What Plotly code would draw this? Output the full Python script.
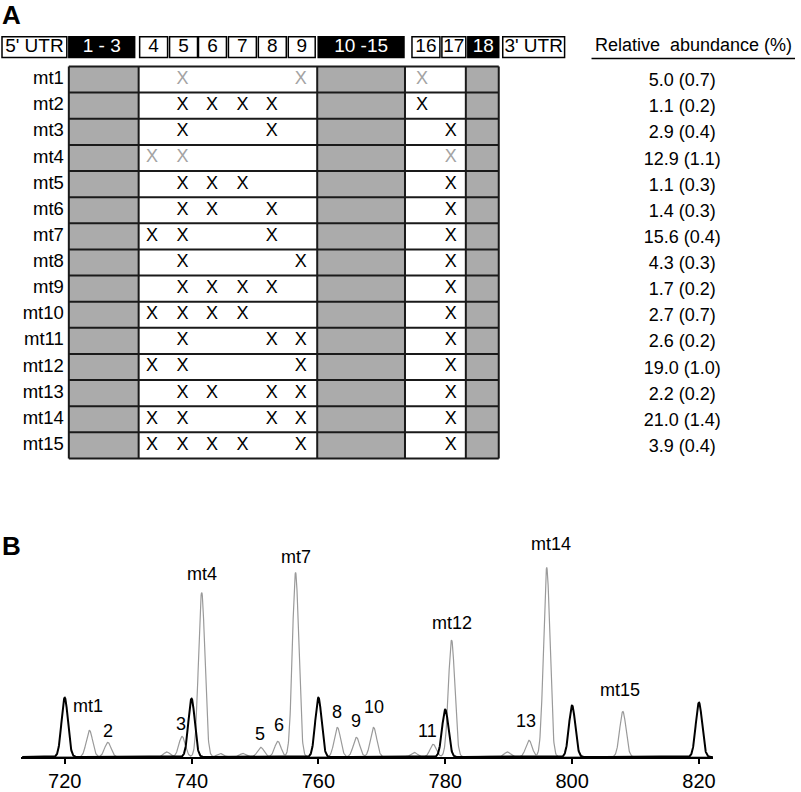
import numpy as np
import plotly.graph_objects as go

# ---- panel A: exon map of the transcripts
exon_labels = ["5' UTR", "1 - 3", "4", "5", "6", "7", "8", "9", "10 -15", "16", "17", "18", "3' UTR"]
constitutive = ["1 - 3", "10 -15", "18"]
transcripts = ["mt%d" % i for i in range(1, 16)]
exons_used = [
    [5, 9, 16], [5, 6, 7, 8, 16], [5, 8, 17], [4, 5, 17], [5, 6, 7, 17],
    [5, 6, 8, 17], [4, 5, 8, 17], [5, 9, 17], [5, 6, 7, 8, 17], [4, 5, 6, 7, 17],
    [5, 8, 9, 17], [4, 5, 9, 17], [5, 6, 8, 9, 17], [4, 5, 8, 9, 17], [4, 5, 6, 7, 9, 17],
]
tentative = ["mt1", "mt4"]
abundance = [5.0, 1.1, 2.9, 12.9, 1.1, 1.4, 15.6, 4.3, 1.7, 2.7, 2.6, 19.0, 2.2, 21.0, 3.9]
abundance_sd = [0.7, 0.2, 0.4, 1.1, 0.3, 0.3, 0.4, 0.3, 0.2, 0.7, 0.2, 1.0, 0.2, 1.4, 0.4]

# ---- panel B: mass spectrum
calib_mz = [720, 740, 760, 780, 800, 820]
calib_int = [59.7, 58.7, 59.7, 47.7, 51.7, 54.7]
peak_mz = [723.9, 726.8, 736.1, 738.5, 741.6, 744.5, 748.1, 750.9, 753.6, 756.4,
           763.0, 766.0, 768.7, 775.1, 778.1, 781.0, 789.8, 793.2, 796.0, 808.0]
peak_int = [26.7, 14.7, 5.0, 20.7, 165.7, 3.5, 3.5, 9.7, 15.7, 185.7,
            29.7, 19.7, 29.7, 4.5, 12.7, 117.7, 5.0, 16.7, 190.7, 45.7]
peak_labels = ["mt1", "2", "", "3", "mt4", "", "", "5", "6", "mt7",
               "8", "9", "10", "", "11", "mt12", "", "13", "mt14", "mt15"]

# ---- layout geometry (pixels; margins are zero)
W, H = 801, 792
FONT = "Arial, Liberation Sans, sans-serif"
header_x = [(2, 67), (69, 135), (140, 168), (170, 198), (199, 227), (229, 257), (259, 287),
            (289, 316), (319, 405), (413, 441), (443, 467), (469, 500), (504, 566)]
mark_x = {4: 152.5, 5: 183, 6: 212.5, 7: 243, 8: 272.5, 9: 301.5, 16: 423, 17: 452}
grey_cols = [(69, 139), (318, 406), (467, 500)]
col_lines = [69, 139, 318, 406, 467, 500]
table_top, row_h = 67, 26.33
label_shift = [24, 11, 0, 12, 18, 0, 0, 13, 16, 16, 15, 16, 20, 0, 13, 17, 0, 19, 24, 22]
label_xshift = [-1, 0, 0, -1, 0, 0, 0, -1, 1, 0, 0, 0, 0, 0, -6, 0, 0, -3, 4, -3]


def row_of(px):
    return (px - table_top) / row_h - 0.5


yA_dom = (0.40, 1.0)
yA_range = [row_of((1 - yA_dom[0]) * H), row_of(0)]

fig = go.Figure()

# grey (constitutive) blocks and table grid
for x0, x1 in grey_cols:
    fig.add_shape(type="rect", x0=x0, x1=x1, y0=-0.5, y1=len(transcripts) - 0.5,
                  xref="x", yref="y", fillcolor="#ababab", line_width=0, layer="below")
for r in range(len(transcripts) + 1):
    fig.add_shape(type="line", x0=col_lines[0], x1=col_lines[-1], y0=r - 0.5, y1=r - 0.5,
                  xref="x", yref="y", line=dict(color="#1a1a1a", width=2))
for cx in col_lines:
    fig.add_shape(type="line", x0=cx, x1=cx, y0=-0.5, y1=len(transcripts) - 0.5,
                  xref="x", yref="y", line=dict(color="#1a1a1a", width=2))

# header boxes (below the text trace)
hy0, hy1 = row_of(37), row_of(58)
for lab, (x0, x1) in zip(exon_labels, header_x):
    dark = lab in constitutive
    fig.add_shape(type="rect", x0=x0, x1=x1, y0=hy0, y1=hy1, xref="x", yref="y", layer="below",
                  fillcolor="black" if dark else "white", line=dict(color="black", width=1.5))
fig.add_trace(go.Scatter(
    x=[(a + b) / 2 for a, b in header_x], y=[(hy0 + hy1) / 2] * len(header_x),
    text=exon_labels, mode="text", textposition="middle center",
    textfont=dict(family=FONT, size=19,
                  color=["white" if l in constitutive else "black" for l in exon_labels]),
    xaxis="x", yaxis="y", hoverinfo="skip"))

# X marks
for grey in (False, True):
    xs, ys = [], []
    for i, (name, ex) in enumerate(zip(transcripts, exons_used)):
        if (name in tentative) != grey:
            continue
        for e in ex:
            xs.append(mark_x[e])
            ys.append(i)
    fig.add_trace(go.Scatter(
        x=xs, y=ys, mode="text", text=["X"] * len(xs), textposition="middle center",
        textfont=dict(family=FONT, size=18, color="#a3a3a3" if grey else "black"),
        xaxis="x", yaxis="y", hoverinfo="skip"))

# row labels
fig.add_trace(go.Scatter(
    x=[64] * len(transcripts), y=list(range(len(transcripts))), mode="text",
    text=transcripts, textposition="middle left",
    textfont=dict(family=FONT, size=18.5, color="black"), xaxis="x", yaxis="y", hoverinfo="skip"))

# relative abundance column
fig.add_trace(go.Scatter(
    x=[684] * len(abundance), y=[i + 0.08 for i in range(len(abundance))], mode="text",
    text=["%.1f (%.1f)" % (a, s) for a, s in zip(abundance, abundance_sd)],
    textposition="middle center",
    textfont=dict(family=FONT, size=18, color="black"), xaxis="x", yaxis="y", hoverinfo="skip"))
fig.add_annotation(x=695, y=row_of(45), xref="x", yref="y", text="Relative\u00a0 abundance (%)",
                   showarrow=False, font=dict(family=FONT, size=18, color="black"))
fig.add_shape(type="line", x0=593, x1=797, y0=row_of(59), y1=row_of(59), xref="x", yref="y",
              line=dict(color="black", width=1.5))

# ---- panel B spectrum
mz = np.arange(713.3, 822.2, 0.04)
grey_trace = np.zeros_like(mz)
for c, h in zip(peak_mz, peak_int):
    grey_trace += h * np.exp(-0.5 * ((mz - c) / 0.5) ** 2)
black_trace = np.zeros_like(mz)
for c, h in zip(calib_mz, calib_int):
    black_trace += h * np.exp(-0.5 * ((mz - c) / 0.5) ** 2)

fig.add_trace(go.Scatter(x=mz, y=grey_trace, mode="lines", line=dict(color="#9a9a9a", width=1.2),
                         xaxis="x2", yaxis="y2", hoverinfo="skip"))
fig.add_trace(go.Scatter(x=mz, y=black_trace, mode="lines", line=dict(color="black", width=2),
                         xaxis="x2", yaxis="y2", hoverinfo="skip"))

for c, h, lab, dy, dx in zip(peak_mz, peak_int, peak_labels, label_shift, label_xshift):
    if lab:
        fig.add_annotation(x=c, y=h, xref="x2", yref="y2", text=lab, showarrow=False,
                           yanchor="middle", yshift=dy, xshift=dx,
                           font=dict(family=FONT, size=18, color="black"))

# panel letters
fig.add_annotation(x=0, y=1, xref="paper", yref="paper", text="<b>A</b>",
                   xanchor="left", yanchor="top", showarrow=False, yshift=2,
                   font=dict(family=FONT, size=26, color="black"))
fig.add_annotation(x=0, y=1 - 533 / H, xref="paper", yref="paper", text="<b>B</b>",
                   xanchor="left", yanchor="top", showarrow=False,
                   font=dict(family=FONT, size=26, color="black"))

base_px, top_px = 762.7, 562.7
fig.update_layout(
    width=W, height=H, margin=dict(l=0, r=0, t=0, b=0),
    paper_bgcolor="white", plot_bgcolor="white", showlegend=False,
    xaxis=dict(domain=[0, 1], range=[0, W], visible=False, fixedrange=True),
    yaxis=dict(domain=list(yA_dom), range=[yA_range[0], yA_range[1]], visible=False),
    xaxis2=dict(domain=[21 / W, 715 / W], range=[713.1, 822.25], anchor="y2",
                showline=True, linecolor="black", linewidth=2, showgrid=False, zeroline=False,
                ticks="outside", ticklen=5, tickwidth=1.5, tickcolor="black",
                tickvals=[720, 740, 760, 780, 800, 820],
                tickfont=dict(family=FONT, size=20, color="black")),
    yaxis2=dict(domain=[(H - base_px) / H, (H - top_px) / H], range=[0, 200], anchor="x2",
                visible=False),
)

# page body has an 8px default margin; drop it so the figure sits at the window origin
fig.write_html("out.html", config={"displayModeBar": False},
               post_script="document.body.style.margin='0';document.body.style.overflow='hidden';")
